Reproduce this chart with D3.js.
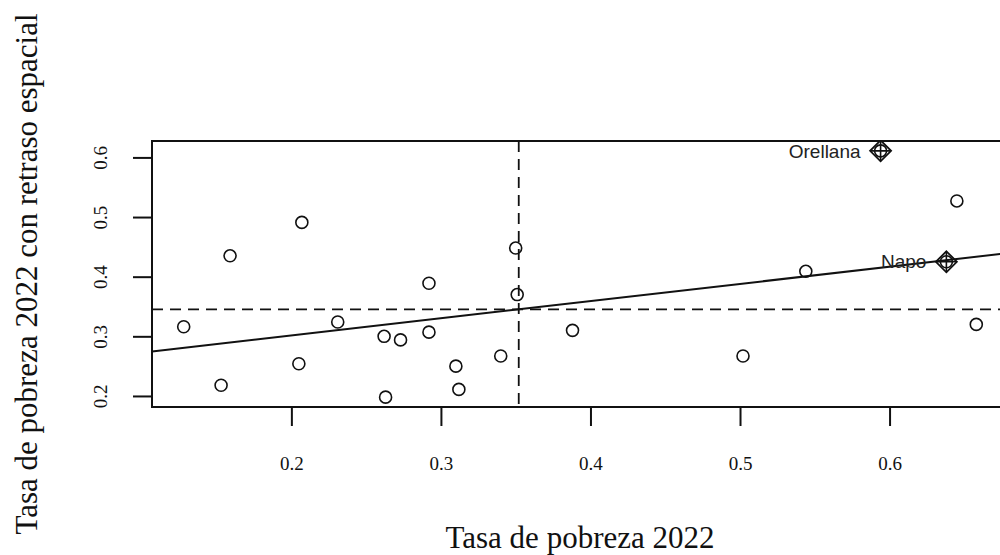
<!DOCTYPE html>
<html lang="en">

<head>
    <meta charset="UTF-8" />
    <title>Moran scatterplot</title>
    <script src="https://d3js.org/d3.v7.js"></script>
    <style>
        body { margin: 0; background: #fff; }
    </style>
</head>

<body>
    <svg id="moran"></svg>
</body>

<script>
// poverty rate 2022 (x) and its spatial lag (y), one entry per province
var xVals = [0.128, 0.153, 0.159, 0.205, 0.207, 0.231, 0.262, 0.263, 0.273, 0.292, 0.292, 0.310,
             0.312, 0.340, 0.350, 0.351, 0.388, 0.502, 0.544, 0.594, 0.645, 0.638, 0.658];
var yVals = [0.316, 0.218, 0.435, 0.254, 0.491, 0.324, 0.300, 0.198, 0.294, 0.389, 0.307, 0.250,
             0.211, 0.267, 0.448, 0.370, 0.310, 0.267, 0.409, 0.611, 0.527, 0.425, 0.320];

// influential points (index into the arrays above) and their labels
var infIdx = [19, 21];
var infNames = ["Orellana", "Napo"];

var xTicks = [0.2, 0.3, 0.4, 0.5, 0.6];
var yTicks = [0.2, 0.3, 0.4, 0.5, 0.6];

var width = 1000, height = 555;
var margin = {left: 152, top: 141, right: 1008, bottom: 407};

var svg = d3.select("#moran")
    .attr("width", width)
    .attr("height", height);

// R style limits: data range stretched by 4%
function rRange(v) {
    var e = d3.extent(v), pad = (e[1] - e[0]) * 0.04;
    return [e[0] - pad, e[1] + pad];
}

var x = d3.scaleLinear().domain(rRange(xVals)).range([margin.left, margin.right]);
var y = d3.scaleLinear().domain(rRange(yVals)).range([margin.bottom, margin.top]);

var serif = "'Liberation Serif', 'Times New Roman', serif";
var sans = "'Liberation Sans', Arial, sans-serif";

svg.append("clipPath").attr("id", "clip")
    .append("rect")
    .attr("x", margin.left).attr("y", margin.top)
    .attr("width", margin.right - margin.left)
    .attr("height", margin.bottom - margin.top);

var plot = svg.append("g").attr("clip-path", "url(#clip)");

// mean lines
var mx = d3.mean(xVals), my = d3.mean(yVals);
plot.append("line")
    .attr("x1", x(mx)).attr("x2", x(mx))
    .attr("y1", margin.top).attr("y2", margin.bottom)
    .attr("stroke", "#111").attr("stroke-width", 1.8)
    .attr("stroke-dasharray", "11,7");
plot.append("line")
    .attr("x1", margin.left).attr("x2", margin.right)
    .attr("y1", y(my)).attr("y2", y(my))
    .attr("stroke", "#111").attr("stroke-width", 1.8)
    .attr("stroke-dasharray", "11,7");

// least squares line
var sxy = d3.sum(xVals, function (d, i) { return (d - mx) * (yVals[i] - my); });
var sxx = d3.sum(xVals, function (d) { return (d - mx) * (d - mx); });
var slope = sxy / sxx, icpt = my - slope * mx;
var xd = x.domain();
plot.append("line")
    .attr("x1", x(xd[0])).attr("y1", y(icpt + slope * xd[0]))
    .attr("x2", x(xd[1])).attr("y2", y(icpt + slope * xd[1]))
    .attr("stroke", "#111").attr("stroke-width", 2);

// points
plot.selectAll("circle.pt")
    .data(xVals)
    .enter()
    .append("circle")
    .attr("class", "pt")
    .attr("cx", function (d) { return x(d); })
    .attr("cy", function (d, i) { return y(yVals[i]); })
    .attr("r", 6)
    .attr("fill", "none")
    .attr("stroke", "#111")
    .attr("stroke-width", 1.6);

// influential points: diamond with a plus
var inf = plot.selectAll("g.inf")
    .data(infIdx)
    .enter()
    .append("g")
    .attr("class", "inf")
    .attr("transform", function (i) { return "translate(" + x(xVals[i]) + "," + y(yVals[i]) + ")"; });
inf.append("path")
    .attr("d", "M0,-10.5L10.5,0L0,10.5L-10.5,0Z")
    .attr("fill", "none").attr("stroke", "#111").attr("stroke-width", 1.8);
inf.append("path")
    .attr("d", "M0,-10.5V10.5M-10.5,0H10.5")
    .attr("fill", "none").attr("stroke", "#111").attr("stroke-width", 1.6);

plot.selectAll("text.lab")
    .data(infIdx)
    .enter()
    .append("text")
    .attr("class", "lab")
    .attr("x", function (i) { return x(xVals[i]) - 20; })
    .attr("y", function (i) { return y(yVals[i]); })
    .attr("dy", "0.35em")
    .attr("text-anchor", "end")
    .style("font-family", sans)
    .style("font-size", "19px")
    .style("fill", "#222")
    .text(function (i, k) { return infNames[k]; });

// box
svg.append("rect")
    .attr("x", margin.left).attr("y", margin.top)
    .attr("width", margin.right - margin.left)
    .attr("height", margin.bottom - margin.top)
    .attr("fill", "none").attr("stroke", "#111").attr("stroke-width", 2);

// x axis
var xAxis = svg.append("g")
    .attr("transform", "translate(0," + margin.bottom + ")")
    .call(d3.axisBottom(x).tickValues(xTicks).tickSize(19)
        .tickFormat(d3.format(".1f")));
xAxis.select(".domain").remove();
xAxis.selectAll(".tick line").attr("stroke", "#111").attr("stroke-width", 2);
xAxis.selectAll(".tick text")
    .attr("dy", null)
    .attr("y", 63)
    .style("font-family", serif).style("font-size", "19px").style("fill", "#111");

// y axis, labels turned like R's las = 0
var yAxis = svg.append("g")
    .attr("transform", "translate(" + margin.left + ",0)")
    .call(d3.axisLeft(y).tickValues(yTicks).tickSize(19).tickFormat(d3.format(".1f")));
yAxis.select(".domain").remove();
yAxis.selectAll(".tick line").attr("stroke", "#111").attr("stroke-width", 2);
yAxis.selectAll(".tick text")
    .attr("x", null).attr("dy", null)
    .attr("text-anchor", "middle")
    .attr("transform", "translate(-45,0) rotate(-90)")
    .style("font-family", serif).style("font-size", "19px").style("fill", "#111");

// axis titles
svg.append("text")
    .attr("x", (margin.left + margin.right) / 2)
    .attr("y", 548)
    .attr("text-anchor", "middle")
    .style("font-family", serif).style("font-size", "31px").style("fill", "#111")
    .text("Tasa de pobreza 2022");

svg.append("text")
    .attr("transform", "translate(37," + (margin.top + margin.bottom) / 2 + ") rotate(-90)")
    .attr("text-anchor", "middle")
    .style("font-family", serif).style("font-size", "31px").style("fill", "#111")
    .text("Tasa de pobreza 2022 con retraso espacial");
</script>

</html>
